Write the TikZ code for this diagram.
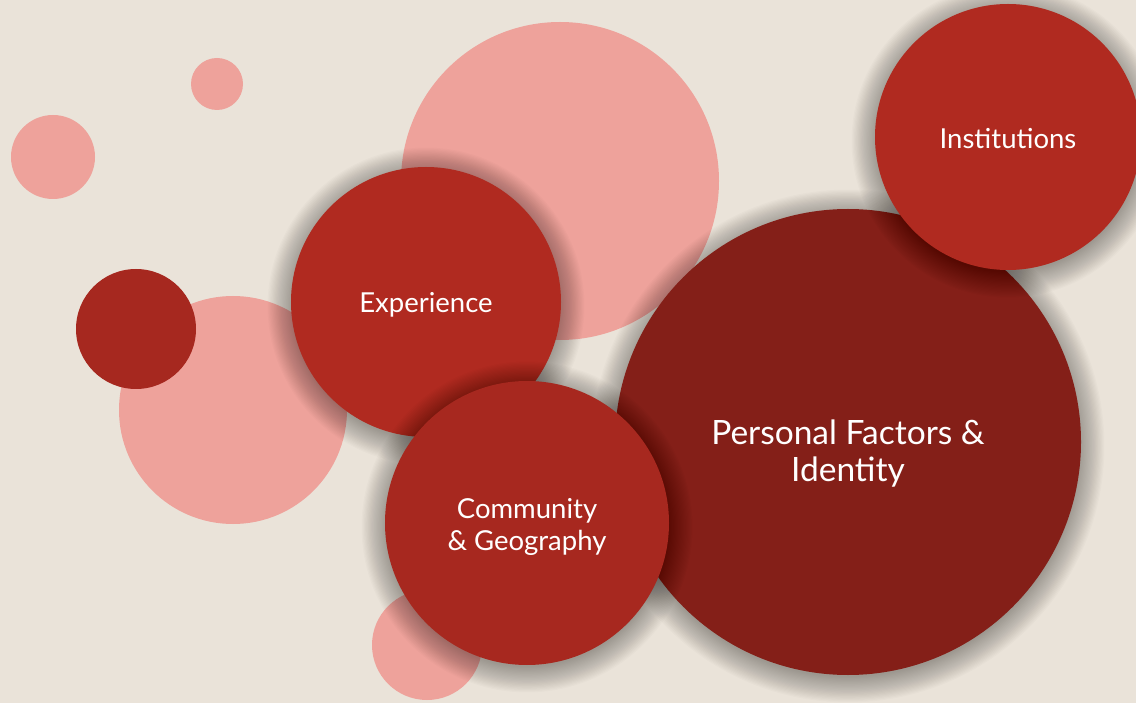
\documentclass[tikz,border=0pt]{standalone}
\usepackage{fontspec}
\setmainfont{Lato}
\definecolor{bgc}{HTML}{EAE3D9}
\definecolor{pinkc}{HTML}{EEA29B}
\definecolor{redc}{HTML}{B02A20}
\definecolor{commc}{HTML}{A7281F}
\definecolor{darkc}{HTML}{841F18}
\definecolor{smallc}{HTML}{A6281F}
\newcommand\softshadow[3]{%
  \foreach \k in {1,...,22}{\fill[black,opacity=0.014] (#1,#2+4) circle[radius=#3-3+\k*1.2];}}
\begin{document}
\begin{tikzpicture}[x=1pt,y=-1pt,
  dot/.style={circle,inner sep=0pt,draw=none},
  txt/.style={text=white,align=center,inner sep=0pt,font=\fontsize{27.5}{32}\selectfont}]
\fill[bgc] (0,0) rectangle (1136,703);
\useasboundingbox (0,0) rectangle (1136,703);
% pink bubbles
\node[dot,fill=pinkc,minimum size=52pt] (p1) at (217,84) {};
\node[dot,fill=pinkc,minimum size=84pt] (p2) at (53,157) {};
\node[dot,fill=pinkc,minimum size=318pt] (p3) at (560,181) {};
\node[dot,fill=pinkc,minimum size=228pt] (p4) at (233,410) {};
\node[dot,fill=pinkc,minimum size=110pt] (p5) at (427,645) {};
% personal factors
\softshadow{848}{442}{233}
\node[dot,fill=darkc,minimum size=466pt] (pf) at (848,442) {};
\node[txt,font=\fontsize{33.5}{37}\selectfont] (pft) at ([yshift=-12pt]pf.center) {Personal Factors \&\\Identity};
% institutions
\softshadow{1008}{137}{133}
\node[dot,fill=redc,minimum size=266pt] (inst) at (1008,137) {};
\node[txt] (instt) at ([yshift=-2pt]inst.center) {Institutions};
% experience
\softshadow{426}{302}{135}
\node[dot,fill=redc,minimum size=270pt] (exp) at (426,302) {};
\node[txt] (expt) at ([yshift=-3pt]exp.center) {Experience};
% community
\softshadow{527}{523}{142}
\node[dot,fill=commc,minimum size=284pt] (com) at (527,523) {};
\node[txt] (comt) at ([yshift=-4pt]com.center) {Community\\\& Geography};
% small dark bubble
\node[dot,fill=smallc,minimum size=120pt] (sd) at (136,329) {};
\end{tikzpicture}
\end{document}
